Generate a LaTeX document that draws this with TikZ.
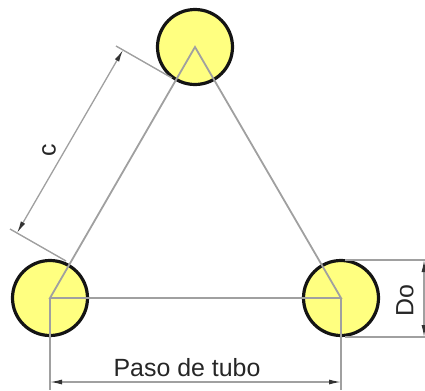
\documentclass[tikz,border=0pt]{standalone}
\usepackage{fontspec}
\setmainfont{Liberation Sans}
\usetikzlibrary{arrows.meta}
\begin{document}
\begin{tikzpicture}[x=1bp,y=-1bp,
  tube/.style={circle,draw=black!92,line width=3.2bp,fill=tubeyellow,minimum size=75bp,inner sep=0pt},
  pitch/.style={draw=linegray,line width=1.8bp},
  extline/.style={draw=linegray,line width=1.4bp},
  dimline/.style={draw=linegray,line width=1.3bp,{Latex[length=12bp,width=5bp,black!80]}-{Latex[length=12bp,width=5bp,black!80]}},
  dimtext/.style={text=black!85,font=\fontsize{25}{25}\selectfont,inner sep=0pt}]
\definecolor{tubeyellow}{HTML}{FFFF80}
\definecolor{linegray}{HTML}{A0A0A0}
\useasboundingbox (0,0) rectangle (425,391);
\node[tube] (L) at (50,298) {};
\node[tube] (R) at (341,298) {};
\node[tube] (T) at (195,47) {};
\coordinate (Lc) at (50,298);
\coordinate (Rc) at (341,298);
\coordinate (Tc) at (195,47);
\draw[pitch] (Lc) -- (Tc) -- (Rc) -- cycle;
% c dimension
\coordinate (ca) at (10,229);
\coordinate (cb) at (66,261);
\coordinate (cc) at (116,46);
\coordinate (cd) at (172,78);
\coordinate (ce) at (17,233);
\coordinate (cf) at (123,50);
\draw[extline] (ca) -- (cb);
\draw[extline] (cc) -- (cd);
\draw[dimline] (ce) -- (cf);
\node[dimtext,rotate=90] (clabel) at (49,150) {c};
% pitch dimension
\coordinate (pl) at (50,390);
\coordinate (pr) at (341,390);
\coordinate (dl) at (50,382);
\coordinate (dr) at (341,382);
\draw[pitch] (Lc) -- (pl);
\draw[pitch] (Rc) -- (pr);
\draw[dimline] (dl) -- (dr);
\node[dimtext] (plabel) at (187,368) {Paso de tubo};
% Do dimension
\coordinate (ot) at (345,260);
\coordinate (otr) at (425,260);
\coordinate (ob) at (345,337);
\coordinate (obr) at (425,337);
\coordinate (dt) at (424,260);
\coordinate (db) at (424,337);
\draw[extline] (ot) -- (otr);
\draw[extline] (ob) -- (obr);
\draw[dimline] (dt) -- (db);
\node[dimtext,rotate=90] (dlabel) at (405,301) {Do};
\end{tikzpicture}
\end{document}
